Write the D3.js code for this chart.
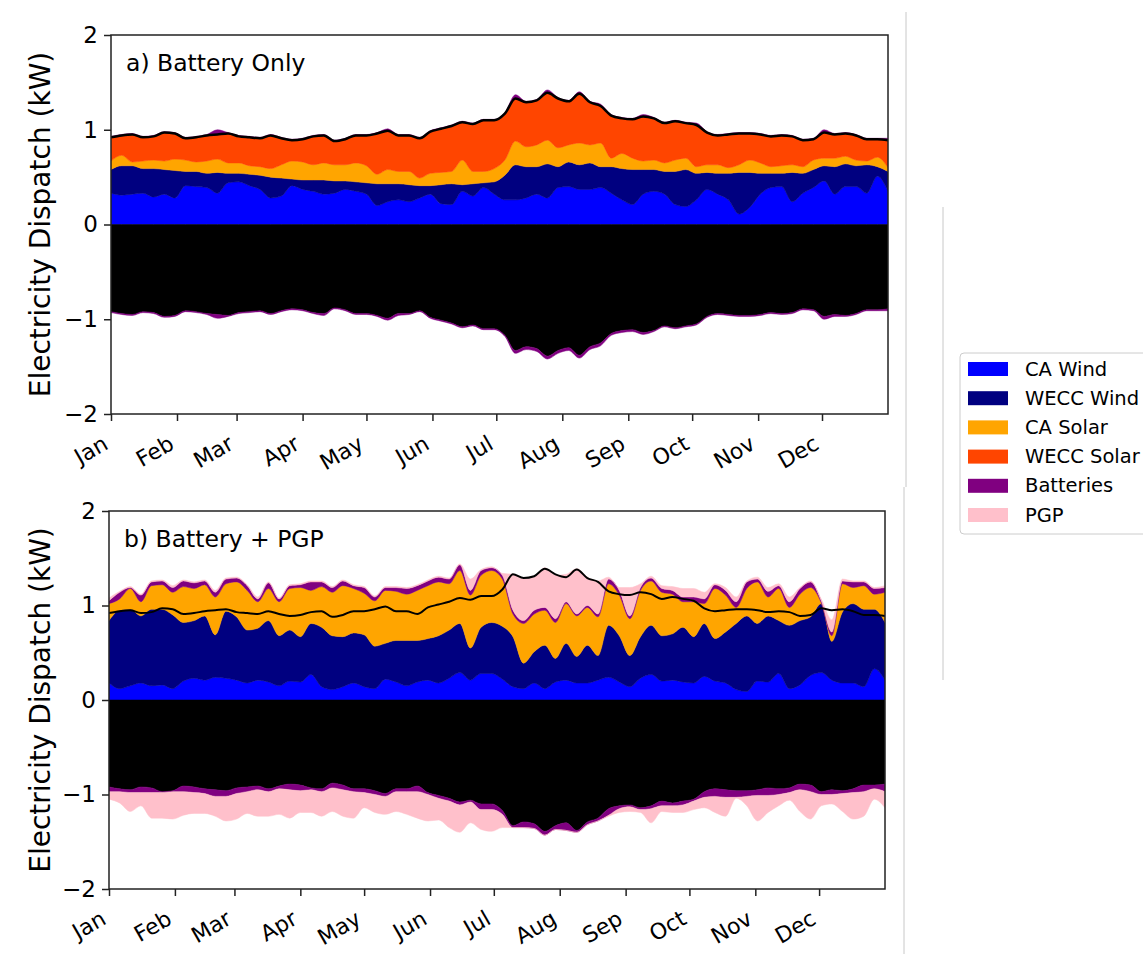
<!DOCTYPE html>
<html>
<head>
<meta charset="utf-8">
<script src="https://d3js.org/d3.v7.min.js"></script>
<style>
  body { margin: 0; background: #fff; }
  text { font-family: "DejaVu Sans", sans-serif; fill: #000; }
</style>
</head>
<body>
<svg id="chart" width="1143" height="954"></svg>
<script>
// sample days (day of year, every 5 days)
const days = [0,5,10,15,20,25,30,35,40,45,50,55,60,65,70,75,80,85,90,95,
  100,105,110,115,120,125,130,135,140,145,150,155,160,165,170,175,180,185,190,195,
  200,205,210,215,220,225,230,235,240,245,250,255,260,265,270,275,280,285,290,295,
  300,305,310,315,320,325,330,335,340,345,350,355,360,365];

// demand (kW), black line, same in both panels
const demand = [.92,.94,.95,.92,.93,.97,.96,.91,.92,.94,
  .95,.96,.93,.92,.91,.94,.91,.89,.90,.93,
  .94,.88,.90,.94,.94,.96,.99,.94,.94,.91,
  .98,1.01,1.04,1.08,1.06,1.10,1.10,1.17,1.33,1.29,
  1.31,1.39,1.33,1.30,1.38,1.29,1.25,1.15,1.12,1.11,
  1.14,1.12,1.07,1.09,1.07,1.05,.97,.94,.95,.96,
  .96,.95,.93,.94,.93,.89,.90,.97,.95,.96,
  .94,.90,.90,.89];

// panel a: upper edge of each stacked layer
const aWindCaTop = [.33,.31,.32,.33,.29,.32,.28,.41,.40,.39,
  .33,.44,.45,.41,.37,.28,.30,.41,.37,.35,
  .32,.33,.37,.35,.32,.20,.24,.26,.24,.28,
  .32,.22,.21,.35,.30,.39,.32,.26,.26,.28,
  .32,.28,.39,.40,.37,.37,.39,.33,.26,.21,
  .32,.35,.32,.21,.19,.26,.37,.32,.26,.11,
  .18,.32,.39,.40,.24,.33,.39,.46,.32,.40,
  .40,.33,.51,.35];
const aWindWeccTop = [.58,.62,.62,.59,.59,.58,.57,.56,.56,.54,
  .55,.54,.54,.53,.52,.50,.49,.48,.47,.47,
  .47,.46,.46,.45,.44,.43,.43,.43,.42,.41,
  .41,.42,.43,.42,.43,.44,.45,.52,.63,.61,
  .61,.64,.61,.66,.63,.65,.61,.61,.59,.58,
  .58,.58,.56,.56,.58,.54,.55,.54,.54,.55,
  .55,.54,.54,.54,.55,.54,.58,.62,.61,.64,
  .62,.63,.61,.56];
const aSolarCaTop = [.67,.73,.66,.67,.68,.67,.69,.68,.66,.67,
  .69,.65,.65,.62,.61,.59,.63,.67,.66,.63,
  .65,.63,.63,.65,.62,.53,.58,.56,.56,.49,
  .54,.55,.56,.68,.56,.56,.59,.68,.88,.82,
  .84,.89,.81,.84,.86,.84,.86,.70,.75,.70,
  .67,.68,.65,.68,.70,.61,.63,.63,.60,.63,
  .68,.65,.61,.62,.63,.61,.68,.70,.70,.72,
  .68,.67,.71,.60];
// battery discharge above demand, and charge below -demand
const aBattOut = [.01,.01,.01,.01,.01,.01,.01,.01,.01,.01,
  .05,.01,.01,.01,.01,.01,.01,.01,.01,.01,
  .01,.01,.01,.01,.01,.01,.02,.01,.01,.01,
  .01,.01,.01,.01,.01,.01,.01,.01,.04,.01,
  .01,.03,.01,.01,.02,.01,.02,.01,.01,.01,
  .02,.01,.01,.01,.01,.02,.01,.01,.01,.01,
  .01,.01,.01,.01,.01,.01,.01,.03,.01,.01,
  .01,.01,.01,.02];
const aBattIn = [.01,.01,.01,.01,.01,.01,.01,.01,.01,.01,
  .04,.01,.01,.01,.01,.01,.01,.01,.01,.01,
  .02,.01,.01,.01,.01,.01,.02,.02,.01,.01,
  .01,.01,.01,.01,.01,.01,.01,.01,.03,.03,
  .03,.03,.03,.03,.03,.03,.03,.02,.02,.02,
  .02,.01,.01,.01,.01,.01,.01,.01,.01,.01,
  .01,.01,.01,.01,.01,.01,.01,.03,.02,.01,
  .01,.01,.01,.02];

// panel b: upper edge of each stacked layer
const bWindCaTop = [.18,.12,.15,.18,.15,.16,.12,.20,.23,.21,
  .24,.23,.21,.18,.21,.19,.15,.20,.19,.27,
  .14,.11,.14,.18,.14,.12,.22,.19,.15,.19,
  .21,.18,.23,.29,.21,.28,.28,.22,.14,.12,
  .18,.12,.19,.21,.18,.18,.21,.24,.19,.14,
  .23,.27,.20,.21,.19,.18,.25,.20,.18,.11,
  .09,.20,.19,.28,.12,.16,.26,.29,.21,.18,
  .18,.14,.33,.21];
const bWindWeccTop = [.84,.95,.96,.89,.96,.96,.90,.82,.84,.89,
  .69,.94,.88,.74,.76,.84,.68,.74,.67,.81,
  .77,.68,.67,.71,.69,.57,.60,.63,.63,.63,
  .65,.68,.74,.81,.55,.77,.82,.78,.67,.39,
  .51,.58,.44,.60,.46,.58,.47,.79,.68,.47,
  .67,.79,.68,.70,.77,.67,.81,.65,.72,.81,
  .89,.81,.89,.84,.79,.84,.88,1.02,.62,.93,
  1.02,.96,.96,.82];
const bSolarCaTop = [1.02,1.07,1.18,1.04,1.21,1.22,1.14,1.20,1.18,1.22,
  1.09,1.23,1.25,1.16,1.04,1.18,1.04,1.18,1.19,1.16,
  1.20,1.14,1.21,1.18,1.13,1.05,1.16,1.15,1.12,1.16,
  1.21,1.25,1.23,1.37,1.11,1.32,1.37,1.28,.91,.81,
  .91,.95,.82,1.02,.89,.98,.88,1.23,1.11,.86,
  1.16,1.26,1.14,1.12,1.04,1.04,1.02,1.18,1.11,.98,
  1.18,1.25,1.09,1.18,.98,1.12,1.19,1.03,.68,1.23,
  1.19,1.21,1.12,1.14];
const bBattTop = [1.05,1.14,1.19,1.11,1.25,1.26,1.19,1.26,1.24,1.26,
  1.14,1.28,1.29,1.21,1.07,1.24,1.07,1.21,1.22,1.25,
  1.25,1.19,1.26,1.21,1.19,1.09,1.19,1.19,1.18,1.21,
  1.26,1.30,1.28,1.43,1.16,1.37,1.40,1.32,.95,.84,
  .95,.98,.86,1.04,.91,1.00,.91,1.28,1.16,.89,
  1.19,1.29,1.18,1.16,1.09,1.09,1.07,1.22,1.16,1.04,
  1.25,1.28,1.15,1.21,1.04,1.18,1.25,1.05,.72,1.26,
  1.25,1.25,1.18,1.19];
const bPgpTop = [1.08,1.15,1.20,1.12,1.26,1.27,1.21,1.27,1.25,1.27,
  1.16,1.29,1.30,1.22,1.09,1.25,1.08,1.22,1.23,1.26,
  1.26,1.20,1.27,1.22,1.20,1.10,1.20,1.20,1.19,1.22,
  1.27,1.31,1.29,1.44,1.28,1.38,1.41,1.34,1.33,1.28,
  1.30,1.40,1.32,1.33,1.39,1.30,1.26,1.30,1.19,1.19,
  1.23,1.31,1.21,1.20,1.18,1.18,1.14,1.23,1.19,1.09,
  1.26,1.30,1.19,1.23,1.09,1.19,1.26,1.07,.85,1.28,
  1.26,1.26,1.19,1.21];
// panel b: lower edge of the charging layers (negative side)
const bBattBottom = [-.97,-.97,-.98,-.98,-.98,-.98,-.97,-.97,-.98,-.99,
  -1.02,-1.02,-.99,-.97,-.95,-.97,-.94,-.95,-.96,-.95,
  -.97,-.93,-.95,-.97,-.98,-1.00,-1.02,-.97,-.97,-.97,
  -1.00,-1.04,-1.07,-1.11,-1.08,-1.16,-1.16,-1.21,-1.35,-1.35,
  -1.36,-1.43,-1.37,-1.38,-1.40,-1.32,-1.28,-1.22,-1.15,-1.13,
  -1.16,-1.15,-1.12,-1.12,-1.11,-1.07,-1.03,-1.02,-1.03,-1.03,
  -1.02,-1.01,-1.01,-1.00,-.98,-.95,-.97,-1.00,-1.00,-.99,
  -.98,-.97,-.94,-.97];
const bPgpBottom = [-1.05,-1.09,-1.18,-1.12,-1.25,-1.25,-1.26,-1.22,-1.20,-1.20,
  -1.23,-1.28,-1.26,-1.20,-1.23,-1.23,-1.21,-1.25,-1.19,-1.19,
  -1.23,-1.18,-1.23,-1.25,-1.14,-1.19,-1.21,-1.18,-1.21,-1.25,
  -1.28,-1.27,-1.35,-1.40,-1.30,-1.37,-1.39,-1.35,-1.35,-1.35,
  -1.36,-1.43,-1.37,-1.38,-1.40,-1.32,-1.28,-1.23,-1.19,-1.18,
  -1.19,-1.30,-1.18,-1.19,-1.19,-1.16,-1.14,-1.19,-1.23,-1.04,
  -1.12,-1.28,-1.19,-1.12,-1.06,-1.18,-1.26,-1.12,-1.10,-1.18,
  -1.26,-1.23,-1.05,-1.14];

const legendNames = ["CA Wind","WECC Wind","CA Solar","WECC Solar","Batteries","PGP"];
const colors = {"CA Wind":"#0000ff","WECC Wind":"#000080","CA Solar":"#ffa500",
  "WECC Solar":"#ff4500","Batteries":"#800080","PGP":"#ffc0cb","Demand":"#000000"};
const yTicks = [-2,-1,0,1,2];

const svg = d3.select("#chart");
const start = new Date(2019,0,1), end = new Date(2020,0,1);
const dates = days.map(d => d3.timeDay.offset(start, d));
const zero = days.map(() => 0);
const neg = arr => arr.map(v => -v);
const add = (a, b) => a.map((v,i) => v + b[i]);

// composite page separators
[[906,12,906,487],[904,487,904,954],[943,207,943,680]].forEach(l => {
  svg.append("line").attr("x1",l[0]).attr("y1",l[1]).attr("x2",l[2]).attr("y2",l[3])
    .attr("stroke","#c8c8c8").attr("stroke-width",1);
});

const panels = [
  {id:"a", left:111, right:888, top:35, bottom:414, title:"a) Battery Only", lineW:2.5,
   layers:[
     [zero, aWindCaTop, "CA Wind"],
     [aWindCaTop, aWindWeccTop, "WECC Wind"],
     [aWindWeccTop, aSolarCaTop, "CA Solar"],
     [aSolarCaTop, demand, "WECC Solar"],
     [demand, add(demand, aBattOut), "Batteries"],
     [zero, neg(demand), "Demand"],
     [neg(demand), neg(add(demand, aBattIn)), "Batteries"]
   ]},
  {id:"b", left:109, right:885, top:511, bottom:889, title:"b) Battery + PGP", lineW:2,
   layers:[
     [zero, bWindCaTop, "CA Wind"],
     [bWindCaTop, bWindWeccTop, "WECC Wind"],
     [bWindWeccTop, bSolarCaTop, "CA Solar"],
     [bSolarCaTop, bBattTop, "Batteries"],
     [bBattTop, bPgpTop, "PGP"],
     [zero, neg(demand), "Demand"],
     [neg(demand), bBattBottom, "Batteries"],
     [bBattBottom, bPgpBottom, "PGP"]
   ]}
];

panels.forEach(p => {
  const xs = d3.scaleTime().domain([start, end]).range([p.left, p.right]);
  const ys = d3.scaleLinear().domain([-2, 2]).range([p.bottom, p.top]);
  const g = svg.append("g");

  g.append("clipPath").attr("id","clip-"+p.id).append("rect")
    .attr("x",p.left).attr("y",p.top).attr("width",p.right-p.left).attr("height",p.bottom-p.top);
  const plot = g.append("g").attr("clip-path","url(#clip-"+p.id+")");

  p.layers.forEach(([lo, hi, name]) => {
    const area = d3.area()
      .x((d,i) => xs(dates[i]))
      .y0((d,i) => ys(lo[i]))
      .y1((d,i) => ys(hi[i]))
      .curve(d3.curveMonotoneX);
    plot.append("path").datum(days)
      .attr("fill", colors[name])
      .attr("stroke", colors[name]).attr("stroke-width", 0.5)
      .attr("d", area);
  });

  // demand line
  const line = d3.line()
    .x((d,i) => xs(dates[i]))
    .y((d,i) => ys(demand[i]))
    .curve(d3.curveMonotoneX);
  plot.append("path").datum(days)
    .attr("fill","none").attr("stroke","#000").attr("stroke-width",p.lineW)
    .attr("d", line);

  // frame
  g.append("rect").attr("x",p.left).attr("y",p.top)
    .attr("width",p.right-p.left).attr("height",p.bottom-p.top)
    .attr("fill","none").attr("stroke","#222").attr("stroke-width",1.5);

  // y axis
  const yAxis = d3.axisLeft(ys).tickValues(yTicks).tickSize(7).tickPadding(6)
    .tickFormat(d => d < 0 ? "\u2212" + Math.abs(d) : d);
  const ya = g.append("g").attr("transform","translate("+p.left+",0)").call(yAxis);
  ya.select(".domain").remove();
  ya.selectAll(".tick line").attr("stroke","#222").attr("stroke-width",1.5);
  ya.selectAll(".tick text").style("font-size","23px").style("font-family","DejaVu Sans");

  // x axis
  const xAxis = d3.axisBottom(xs).ticks(d3.timeMonth.every(1)).tickSize(7)
    .tickFormat(d3.timeFormat("%b"));
  const xa = g.append("g").attr("transform","translate(0,"+p.bottom+")").call(xAxis);
  xa.select(".domain").remove();
  xa.selectAll(".tick").filter(d => d >= end).remove();
  xa.selectAll(".tick line").attr("stroke","#222").attr("stroke-width",1.5);
  xa.selectAll(".tick text")
    .style("font-size","22px").style("font-family","DejaVu Sans")
    .attr("text-anchor","end").attr("dy",null).attr("y",null)
    .attr("transform","translate(-2,34) rotate(-30)");

  // title
  g.append("text").attr("x",p.left+15).attr("y",p.top+36)
    .style("font-size","23.5px").text(p.title);

  // y label
  g.append("text")
    .attr("transform","translate(50,"+((p.top+p.bottom)/2)+") rotate(-90)")
    .attr("text-anchor","middle")
    .style("font-size","28px").text("Electricity Dispatch (kW)");
});

// legend
const lg = svg.append("g");
lg.append("rect").attr("x",960).attr("y",353).attr("width",200).attr("height",181)
  .attr("rx",4).attr("fill","#fff").attr("stroke","#cccccc").attr("stroke-width",1);
legendNames.forEach((n,i) => {
  const cy = 369 + i*29.2;
  lg.append("rect").attr("x",968).attr("y",cy-7).attr("width",40).attr("height",14)
    .attr("fill",colors[n]);
  lg.append("text").attr("x",1025).attr("y",cy).attr("dominant-baseline","central")
    .style("font-size","19.5px").text(n);
});
</script>
</body>
</html>
